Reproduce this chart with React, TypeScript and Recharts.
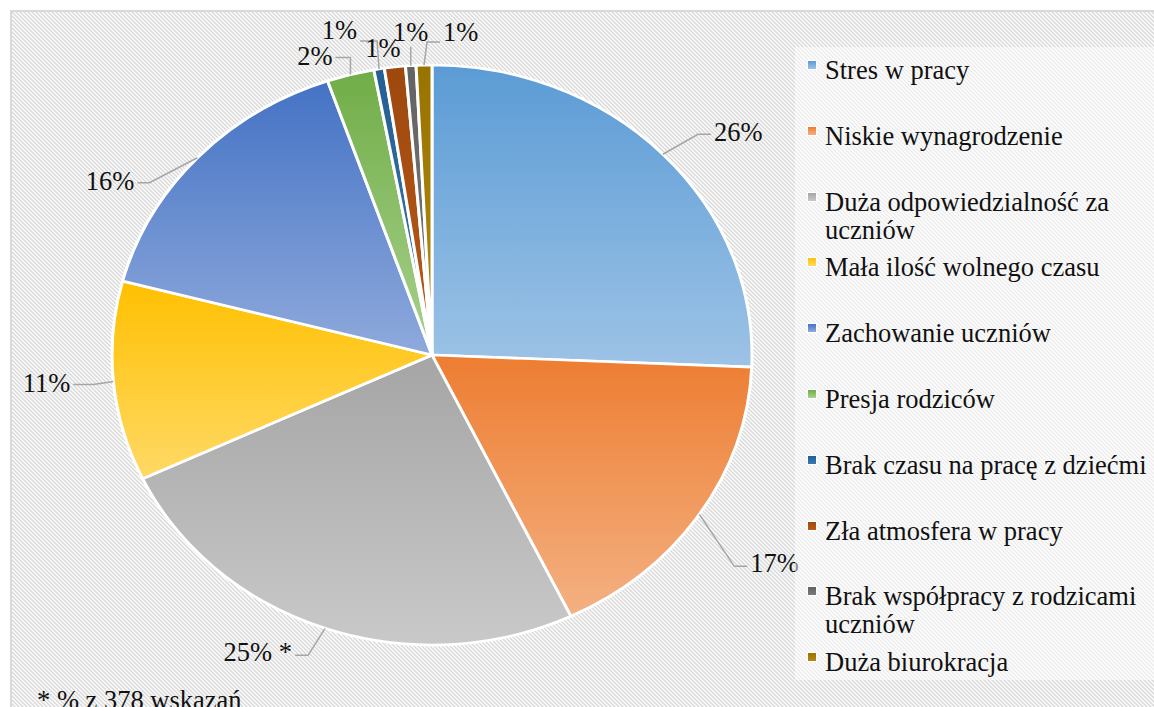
import React from 'react';
import { PieChart, Pie, Cell, Legend } from 'recharts';

// odpowiedzi (378 wskazań)
const categories = [
  'Stres w pracy',
  'Niskie wynagrodzenie',
  'Duża odpowiedzialność za uczniów',
  'Mała ilość wolnego czasu',
  'Zachowanie uczniów',
  'Presja rodziców',
  'Brak czasu na pracę z dziećmi',
  'Zła atmosfera w pracy',
  'Brak współpracy z rodzicami uczniów',
  'Duża biurokracja',
];
const counts = [97, 65, 95, 42, 59, 9, 2, 4, 2, 3];
const TOTAL = 378;
const labelSuffix = ['', '', ' *', '', '', '', '', '', '', ''];

const topColors = ['#5B9BD5', '#ED7D31', '#A5A5A5', '#FFC000', '#4472C4', '#70AD47', '#255E91', '#9E480E', '#636363', '#997300'];
const bottomColors = ['#9DC3E6', '#F4B183', '#C9C9C9', '#FFD966', '#8FAADC', '#A9D18E', '#3A78B5', '#B95A1A', '#7A7A7A', '#B38A10'];

// layout of the data labels (leader elbow offset, horizontal tail, text shift)
const labelLayout = [
  { ex: 35, ey: -20, h: 13, ty: -2, line: true },
  { ex: 35, ey: 52, h: 13, ty: -3, line: true },
  { ex: -17, ey: 27, h: -13, ty: -3, line: true },
  { ex: -20, ey: 3, h: -20, ty: -1, line: true },
  { ex: -48, ey: 25, h: -12, ty: -2, line: true },
  { ex: 0, ey: -17, h: -15, ty: -2, line: true },
  { ex: -2, ey: -28, h: -17, ty: -11, line: true },
  { ex: -12, ey: -19, h: 0, ty: 0, line: false },
  { ex: 0, ey: -19, h: 0, ty: -15, line: true },
  { ex: 3, ey: -23, h: 13, ty: -10, line: true },
];

const data = categories.map((name, i) => ({ name, value: counts[i] }));

const FONT = 'Times New Roman, Liberation Serif, DejaVu Serif, serif';
const FS = 26.5;
const CX = 420;
const CY = 343;
const R = 320;
const SQUASH = 290 / 320;

const HATCH =
  "url(\"data:image/svg+xml;utf8,<svg xmlns='http://www.w3.org/2000/svg' width='4' height='4'><rect width='4' height='4' fill='white'/><path d='M-1,-1 L5,5 M-1,3 L1,5 M3,-1 L5,1' stroke='%23d9d9d9' stroke-width='1.5'/></svg>\")";

const renderLabel = (p: any) => {
  const i = p.index;
  const L = labelLayout[i];
  const rad = Math.PI / 180;
  const ex = p.cx + p.outerRadius * Math.cos(-p.midAngle * rad);
  const ey = p.cy + p.outerRadius * SQUASH * Math.sin(-p.midAngle * rad);
  const bx = ex + L.ex;
  const by = ey + L.ey;
  const tx = bx + L.h;
  const pct = Math.round((counts[i] / TOTAL) * 100);
  const anchor = L.h > 0 ? 'start' : L.h < 0 ? 'end' : 'middle';
  const textX = L.h > 0 ? tx + 3 : L.h < 0 ? tx - 3 : bx;
  return (
    <g key={`lbl-${i}`}>
      {L.line && (
        <polyline
          points={`${ex},${ey} ${bx},${by} ${tx},${by}`}
          fill="none"
          stroke="#A6A6A6"
          strokeWidth={1.5}
        />
      )}
      <text
        x={textX}
        y={by + L.ty}
        textAnchor={anchor}
        dominantBaseline="central"
        fontFamily={FONT}
        fontSize={FS}
        fill="#111"
      >
        {`${pct}%${labelSuffix[i]}`}
      </text>
    </g>
  );
};

const renderLegend = () => (
  <div style={{ position: 'relative', width: 359, height: 633, background: 'rgba(255,255,255,0.5)' }}>
    {categories.map((name, i) => (
      <div
        key={`leg-${i}`}
        style={{
          position: 'absolute',
          left: 30,
          top: 23 + i * 65.8 - 14,
          width: 335,
          fontFamily: FONT,
          fontSize: FS,
          lineHeight: '28px',
          color: '#111',
        }}
      >
        <span
          style={{
            position: 'absolute',
            left: -18,
            top: 4,
            width: 8,
            height: 8,
            border: '1px solid #fff',
            background: `linear-gradient(${topColors[i]}, ${bottomColors[i]})`,
          }}
        />
        {name}
      </div>
    ))}
  </div>
);

export default function App() {
  return (
    <div
      style={{
        position: 'fixed',
        left: 10,
        top: 10,
        width: 1142,
        height: 695,
        borderTop: '2px solid #D9D9D9',
        borderLeft: '2px solid #D9D9D9',
        overflow: 'hidden',
        backgroundColor: '#fff',
        backgroundImage: HATCH,
      }}
    >
      <style>{`.pie-squash .recharts-sector { transform-origin: ${CX}px ${CY}px; transform: scaleY(${SQUASH}); }`}</style>
      <PieChart width={1142} height={695} margin={{ top: 0, right: 0, bottom: 0, left: 0 }}>
        <defs>
          {topColors.map((c, i) => (
            <linearGradient key={`g${i}`} id={`sg${i}`} x1="0" y1="0" x2="0" y2="1">
              <stop offset="0%" stopColor={c} />
              <stop offset="100%" stopColor={bottomColors[i]} />
            </linearGradient>
          ))}
        </defs>
        <Pie
          className="pie-squash"
          data={data}
          dataKey="value"
          nameKey="name"
          cx={CX}
          cy={CY}
          outerRadius={R}
          startAngle={90}
          endAngle={-270}
          stroke="#ffffff"
          strokeWidth={3}
          labelLine={false}
          label={renderLabel}
          isAnimationActive={false}
        >
          {data.map((d, i) => (
            <Cell key={d.name} fill={`url(#sg${i})`} />
          ))}
        </Pie>
        <Legend
          layout="vertical"
          align="right"
          verticalAlign="middle"
          content={renderLegend}
          wrapperStyle={{ left: 783, top: 35, width: 359, height: 633 }}
        />
      </PieChart>
      <div
        style={{
          position: 'absolute',
          left: 25,
          top: 674,
          fontFamily: FONT,
          fontSize: FS,
          lineHeight: '28px',
          color: '#111',
          whiteSpace: 'nowrap',
        }}
      >
        * % z 378 wskazań
      </div>
    </div>
  );
}
